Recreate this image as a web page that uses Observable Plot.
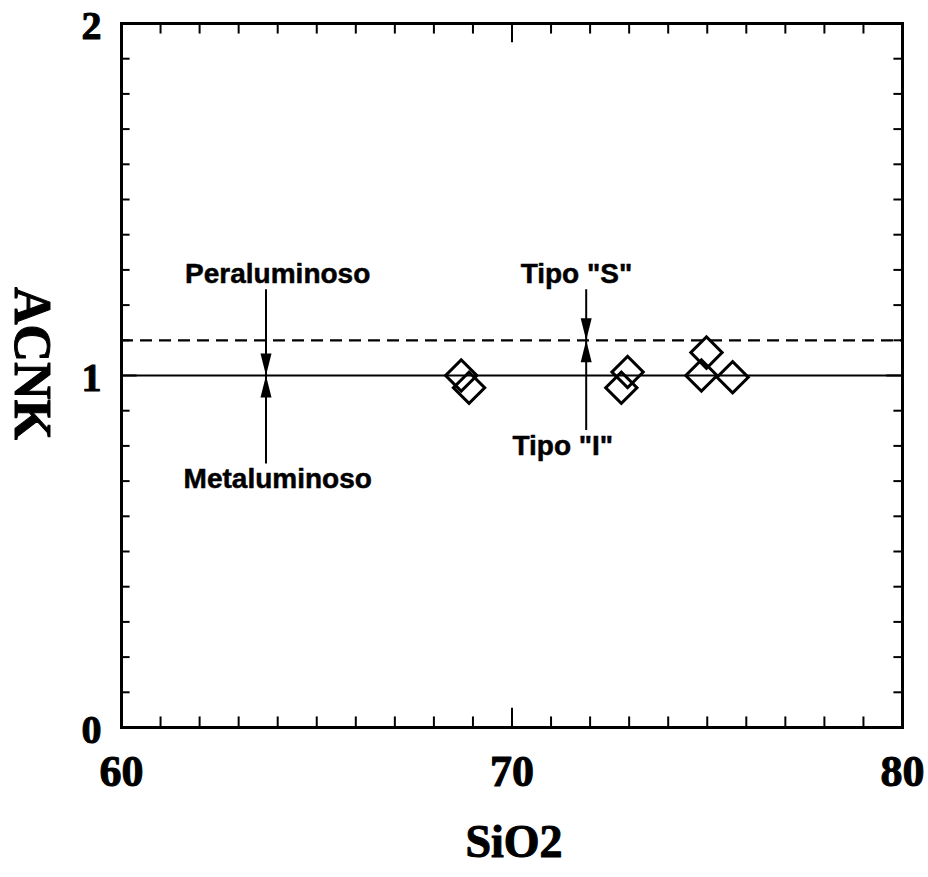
<!DOCTYPE html>
<html>
<head>
<meta charset="utf-8">
<script src="https://cdn.jsdelivr.net/npm/d3@7"></script>
<script src="https://cdn.jsdelivr.net/npm/@observablehq/plot@0.6"></script>
<style>
  html, body { margin: 0; padding: 0; background: #fff; }
</style>
</head>
<body>
<div id="chart"></div>
<script>
// Data
const sio2 = [68.7, 68.9, 72.96, 72.8, 74.98, 74.85, 75.65];
const acnk = [1.0, 0.965, 1.01, 0.965, 1.065, 1.0, 0.995];
const xTickLabels = [60, 70, 80];
const yTickLabels = [0, 1, 2];
const xMinorTicks = d3.range(61, 80);
const yMinorTicks = d3.range(1, 20).map(i => i / 10);
const boundaryLines = [1.0];   // Metaluminoso / Peraluminoso
const dashedLines = [1.1];     // Tipo I / Tipo S
const annotLabels = ["Peraluminoso", "Metaluminoso", "Tipo \"S\"", "Tipo \"I\""];
const annotX = [64.0, 64.0, 71.65, 71.3];
const annotY = [1.262, 0.68, 1.262, 0.773];
const arrowX = [63.7, 63.7, 71.9, 71.9];
const arrowFrom = [1.245, 0.75, 1.245, 0.845];
const arrowTo = [1.0, 1.0, 1.1, 1.1];

const points = sio2.map((x, i) => ({x, y: acnk[i]}));
const annots = annotLabels.map((t, i) => ({t, x: annotX[i], y: annotY[i]}));
const arrows = arrowX.map((x, i) => ({x, y1: arrowFrom[i], y2: arrowTo[i], rot: arrowFrom[i] > arrowTo[i] ? 180 : 0}));

// elongated triangle arrowhead, tip at origin pointing up
const head = {
  draw(ctx, size) {
    const w = 11, h = 22;
    ctx.moveTo(0, 0);
    ctx.lineTo(-w / 2, h);
    ctx.lineTo(w / 2, h);
    ctx.closePath();
  }
};

const serif = "Liberation Serif, Times New Roman, serif";
const sans = "Liberation Sans, Arial, Helvetica, sans-serif";

const chart = Plot.plot({
  width: 928,
  height: 877,
  marginLeft: 121,
  marginRight: 26,
  marginTop: 23,
  marginBottom: 150,
  x: {domain: [60, 80], axis: null},
  y: {domain: [0, 2], axis: null},
  style: {background: "#fff", color: "#000"},
  marks: [
    // minor ticks (inside the frame)
    Plot.ruleX(xMinorTicks, {x: d => d, y1: 0, y2: d => d === 70 ? 0.055 : 0.03, stroke: "#000", strokeWidth: 2}),
    Plot.ruleX(xMinorTicks, {x: d => d, y1: 2, y2: d => d === 70 ? 1.945 : 1.97, stroke: "#000", strokeWidth: 2}),
    Plot.ruleY(yMinorTicks, {y: d => d, x1: 60, x2: d => d === 1 ? 60.4 : 60.22, stroke: "#000", strokeWidth: 2}),
    Plot.ruleY(yMinorTicks, {y: d => d, x1: 80, x2: d => d === 1 ? 79.6 : 79.78, stroke: "#000", strokeWidth: 2}),
    // boundary lines
    Plot.ruleY(boundaryLines, {y: d => d, stroke: "#000", strokeWidth: 2.2}),
    Plot.ruleY(dashedLines, {y: d => d, stroke: "#000", strokeWidth: 2.2, strokeDasharray: "12,7"}),
    // arrows
    Plot.link(arrows, {x1: "x", x2: "x", y1: "y1", y2: "y2", stroke: "#000", strokeWidth: 2}),
    Plot.dot(arrows, {x: "x", y: "y2", symbol: head, rotate: "rot", fill: "#000", stroke: "none", r: 5}),
    // annotation labels
    Plot.text(annots, {x: "x", y: "y", text: "t", lineAnchor: "bottom", fontFamily: sans, fontWeight: "bold", fontSize: 28, fill: "#000", stroke: "#000", strokeWidth: 0.5}),
    // data points
    Plot.dot(points, {x: "x", y: "y", symbol: "square", rotate: 45, r: 12.5, stroke: "#000", strokeWidth: 3, fill: "none"}),
    // frame
    Plot.frame({stroke: "#000", strokeWidth: 3}),
    // tick labels
    Plot.text(xTickLabels, {x: d => d, y: 0, text: d => String(d), dy: 44, fontFamily: serif, fontWeight: "bold", fontSize: 44, fill: "#000", stroke: "#000", strokeWidth: 1}),
    Plot.text(yTickLabels, {x: 60, y: d => d, text: d => String(d), dx: -30, dy: 3, fontFamily: serif, fontWeight: "bold", fontSize: 40, fill: "#000", stroke: "#000", strokeWidth: 1}),
    // axis titles
    Plot.text(["ACNK"], {frameAnchor: "left", textAnchor: "middle", dx: -90, dy: -12, rotate: 90, text: d => d, fontFamily: serif, fontWeight: "bold", fontSize: 52, letterSpacing: "5px", fill: "#000", stroke: "#000", strokeWidth: 1}),
    Plot.text(["SiO2"], {frameAnchor: "bottom", textAnchor: "middle", dx: 2, dy: 129, text: d => d, fontFamily: serif, fontWeight: "bold", fontSize: 46, letterSpacing: "-5px", fill: "#000", stroke: "#000", strokeWidth: 1})
  ]
});
document.getElementById("chart").appendChild(chart);
</script>
</body>
</html>
